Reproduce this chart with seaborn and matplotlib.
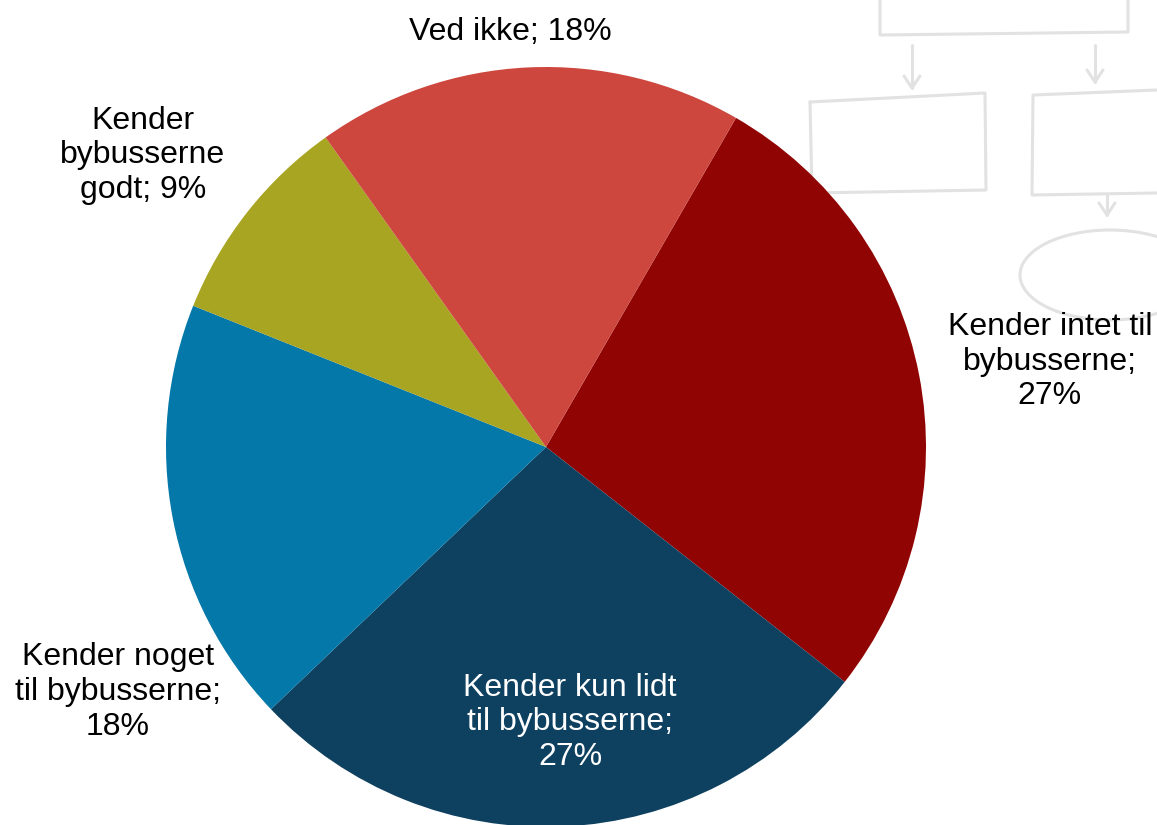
import numpy as np
import matplotlib.pyplot as plt
import seaborn as sns
from matplotlib.lines import Line2D
from matplotlib.patches import Ellipse

# data, clockwise from the slice that starts at the upper right
categories = ["Kender intet til\nbybusserne;\n27%",
              "Kender kun lidt\ntil bybusserne;\n27%",
              "Kender noget\ntil bybusserne;\n18%",
              "Kender\nbybusserne\ngodt; 9%",
              "Ved ikke; 18%"]
shares = [27, 27, 18, 9, 18]
slice_colors = ["#910404", "#0E4060", "#0378A9", "#A8A522", "#CD473E"]
label_colors = ["black", "white", "black", "black", "black"]
# label centres in pie units (radius = 1)
label_xy = [(1.326, 0.224), (0.063, -0.724), (-1.126, -0.645), (-1.061, 0.768), (-0.095, 1.092)]

sns.set_theme(style="white")
plt.rcParams["font.family"] = ["Liberation Sans", "DejaVu Sans"]

W, H = 1157, 825
fig = plt.figure(figsize=(W / 100, H / 100), dpi=100)
fig.patch.set_facecolor("white")

# faint flowchart sketch in the background (top right)
sketch = "#e2e2e2"
def px_line(xs, ys, lw=2.2):
    fig.add_artist(Line2D([x / W for x in xs], [1 - y / H for y in ys],
                          color=sketch, lw=lw, transform=fig.transFigure, zorder=0))

px_line([880, 880, 1128, 1128], [0, 35, 32, 0])
for ax_x, y0, y1 in [(912, 45, 88), (1095, 45, 82), (1107, 195, 215)]:
    px_line([ax_x, ax_x], [y0, y1])
    px_line([ax_x - 8, ax_x, ax_x + 8], [y1 - 12, y1, y1 - 12])
px_line([810, 985, 986, 812, 810], [102, 93, 190, 193, 102])
px_line([1157, 1033, 1032, 1157], [90, 95, 195, 193])
fig.add_artist(Ellipse((1110 / W, 1 - 275 / H), 180 / W, 90 / H, fill=False,
                       edgecolor=sketch, lw=2.2, transform=fig.transFigure, zorder=0))

ax = fig.add_axes([0, 0, 1, 1])
ax.set_facecolor("none")

ax.pie(shares, colors=slice_colors, startangle=60, counterclock=False,
       radius=1.0, wedgeprops=dict(linewidth=0))

# pie resets the limits, so place the view afterwards
scale = 380.0
cx, cy = 546.0, 447.0
ax.set_xlim(-cx / scale, (W - cx) / scale)
ax.set_ylim(-(H - cy) / scale, cy / scale)
ax.set_aspect("equal", adjustable="datalim")
ax.axis("off")

for text, (x, y), c in zip(categories, label_xy, label_colors):
    ax.text(x, y, text, ha="center", va="center", fontsize=23, color=c,
            linespacing=1.2)

fig.savefig("out.png", dpi=100)
